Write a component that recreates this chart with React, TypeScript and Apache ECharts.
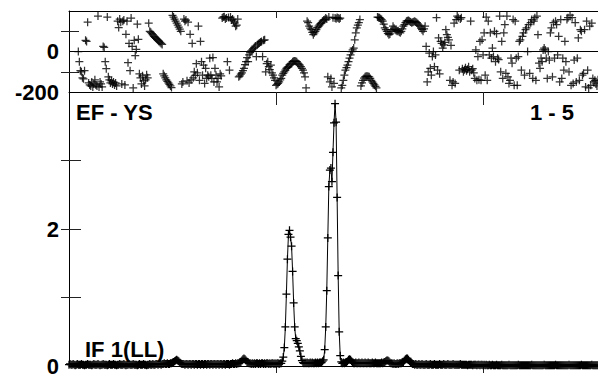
import React, { useEffect, useRef } from "react";
import * as echarts from "echarts";

// ---- data (channel index = array position) ----
const phaseDeg: (number | null)[] = [
  null, null, null, null, null, null, null, null, null, 0, -50, -95, -100, -130, -135, -95, 55, 50, 145, -155,
  -165, -170, -150, -175, -160, -140, -165, -170, 175, -175, -150, -160, -175, 25, 20, -50, -85, 170, -125, -140,
  -155, -145, -160, -150, -165, -155, -170, 150, 118, 160, 145, -160, 150, 155, -165, 85, 150, -55, 40, -95,
  165, 25, -180, 55, -20, 10, 135, 60, -110, -130, -160, -120, -145, -170, -140, -115, -130, 140, 100, 95,
  88, 82, 75, 70, 65, 60, 55, 50, 45, 40, 35, -110, -120, -130, -140, -148, -155, -162, -170, -178,
  178, 170, 160, 150, 140, 130, 120, 110, 100, -160, -150, 160, 150, 155, -145, 145, -155, 85, -140, 40,
  -130, -100, -118, -60, -105, 125, -142, 50, -50, -117, -67, -158, -83, -133, -117, -125, -33, -117, -133, -30,
  -150, -83, -117, -150, -133, -175, -110, -120, 165, 170, 172, 160, 165, -50, 168, -92, 170, 155, 160, 150,
  140, 125, 130, 160, -125, -120, -112, -105, -95, -83, -65, -50, -30, -50, -17, -5, 3, 8, 14, 20,
  27, -25, 33, 38, 42, 47, 50, -25, 55, 58, -100, -60, -50, -75, -90, -67, -105, -117, -130, -142,
  -167, -162, -158, -150, -140, -133, -117, -108, -100, -92, -83, -78, -75, -67, -62, -58, -50, -48, -47, -48,
  -50, -58, -62, -67, -75, -83, -92, -105, -125, -180, 150, 142, 125, 115, 108, 95, 83, 92, 100, 108,
  118, 125, 132, 138, 142, 150, 155, 158, 165, 160, -125, 170, -150, -133, -175, 167, -158, 165, 162, 168,
  165, 160, 165, -180, -167, -142, -117, -92, -80, -67, -50, -33, -17, 0, 8, 17, 58, 92, 117, 130,
  142, 158, -170, -155, -142, -132, -125, -122, -122, -123, -125, -133, -142, -150, -158, -165, -172, -180, 170, 168,
  167, 162, 158, 150, 135, 117, 108, 100, 90, 83, 87, 98, 108, 125, 115, 108, 104, 100, 103, 96,
  92, 100, 112, 125, 133, 142, 150, 152, 153, 150, 146, 142, 145, 147, 150, 146, 142, 137, 130, 125,
  115, 108, 100, 112, 125, 25, -150, -100, -8, -83, -117, -25, 0, -75, -17, 167, -92, 67, -110, 50,
  40, 17, 33, 45, 108, 83, 70, 58, -142, 30, -167, -150, 140, -158, 158, 175, 167, -92, 160, 167,
  -85, -100, -90, -80, -95, -88, -75, -100, 150, -92, -85, -105, -133, 8, -142, -25, -140, 50, -142, 58,
  -17, 92, -117, 170, -142, 150, -17, 92, -33, 17, -25, 100, -50, 88, -33, -40, 175, -100, 50, -133,
  92, 133, -108, 175, -125, -158, -142, -33, -58, 158, -167, 150, -33, -167, -25, 50, 58, -92, 75, 92,
  -117, 108, 117, 0, 133, -108, 142, 158, -133, 150, 167, -142, 175, 83, -58, -83, -33, -50, 8, 17,
  8, -33, -133, 0, -42, 92, 117, -125, 142, -33, 150, 133, -17, 75, -150, 158, -133, -33, -92, 50,
  -50, 158, 167, -100, 180, -167, 167, -158, -42, 142, -150, -33, 67, -142, 108, 100, -117, -108, 108, -175,
  150, -92, -180, 125, -167, 140, -133, -150, -142, -160, -170, -140,
];

const amplitude: number[] = [
  0.02, 0.03, 0.02, 0.02, 0.03, 0.02, 0.01, 0.02, 0.03, 0.02, 0.02, 0.02, 0.03, 0.02, 0.02, 0.01, 0.02, 0.02, 0.03, 0.02,
  0.02, 0.02, 0.01, 0.02, 0.03, 0.02, 0.02, 0.02, 0.03, 0.02, 0.01, 0.02, 0.02, 0.03, 0.02, 0.02, 0.02, 0.01, 0.02, 0.03,
  0.02, 0.02, 0.02, 0.03, 0.02, 0.02, 0.01, 0.02, 0.02, 0.03, 0.02, 0.02, 0.02, 0.03, 0.02, 0.01, 0.02, 0.02, 0.03, 0.02,
  0.02, 0.02, 0.03, 0.02, 0.02, 0.02, 0.01, 0.02, 0.03, 0.02, 0.02, 0.02, 0.03, 0.02, 0.02, 0.01, 0.02, 0.02, 0.03, 0.02,
  0.02, 0.03, 0.02, 0.02, 0.03, 0.03, 0.02, 0.03, 0.03, 0.02, 0.03, 0.03, 0.04, 0.03, 0.03, 0.04, 0.03, 0.03, 0.04, 0.04,
  0.05, 0.06, 0.07, 0.08, 0.09, 0.08, 0.07, 0.05, 0.04, 0.03, 0.03, 0.03, 0.02, 0.03, 0.03, 0.02, 0.03, 0.03, 0.02, 0.03,
  0.03, 0.02, 0.03, 0.03, 0.02, 0.03, 0.03, 0.02, 0.03, 0.03, 0.02, 0.03, 0.03, 0.02, 0.03, 0.03, 0.02, 0.03, 0.03, 0.02,
  0.03, 0.03, 0.02, 0.03, 0.03, 0.02, 0.03, 0.03, 0.02, 0.03, 0.03, 0.02, 0.03, 0.03, 0.03, 0.02, 0.03, 0.03, 0.04, 0.03,
  0.03, 0.04, 0.03, 0.04, 0.04, 0.05, 0.06, 0.08, 0.10, 0.11, 0.10, 0.08, 0.06, 0.05, 0.04, 0.04, 0.03, 0.04, 0.03, 0.04,
  0.03, 0.04, 0.04, 0.03, 0.04, 0.03, 0.04, 0.04, 0.03, 0.04, 0.03, 0.04, 0.04, 0.03, 0.04, 0.03, 0.04, 0.04, 0.03, 0.04,
  0.03, 0.04, 0.04, 0.03, 0.04, 0.04, 0.07, 0.13, 0.27, 0.57, 1.05, 1.56, 1.92, 1.98, 1.88, 1.75, 1.38, 0.92, 0.57, 0.40,
  0.37, 0.33, 0.28, 0.22, 0.14, 0.08, 0.05, 0.04, 0.05, 0.04, 0.05, 0.04, 0.04, 0.05, 0.04, 0.05, 0.04, 0.04, 0.05, 0.04,
  0.05, 0.04, 0.05, 0.05, 0.05, 0.07, 0.09, 0.24, 0.57, 1.10, 1.87, 2.62, 2.86, 2.89, 2.69, 3.12, 3.55, 3.83, 3.56, 2.46,
  1.32, 0.50, 0.15, 0.06, 0.04, 0.05, 0.04, 0.05, 0.06, 0.07, 0.09, 0.10, 0.09, 0.07, 0.05, 0.04, 0.04, 0.05, 0.04, 0.04,
  0.05, 0.04, 0.04, 0.05, 0.04, 0.04, 0.05, 0.04, 0.04, 0.05, 0.04, 0.04, 0.04, 0.05, 0.04, 0.04, 0.05, 0.04, 0.04, 0.04,
  0.04, 0.04, 0.05, 0.04, 0.05, 0.06, 0.07, 0.08, 0.08, 0.07, 0.05, 0.04, 0.04, 0.03, 0.04, 0.03, 0.03, 0.04, 0.03, 0.04,
  0.04, 0.04, 0.05, 0.06, 0.08, 0.10, 0.11, 0.11, 0.09, 0.07, 0.05, 0.04, 0.03, 0.03, 0.02, 0.03, 0.02, 0.02, 0.03, 0.02,
  0.02, 0.03, 0.02, 0.02, 0.02, 0.03, 0.02, 0.02, 0.02, 0.03, 0.02, 0.02, 0.02, 0.03, 0.02, 0.02, 0.02, 0.02, 0.03, 0.02,
  0.02, 0.02, 0.03, 0.02, 0.02, 0.02, 0.03, 0.02, 0.02, 0.02, 0.02, 0.03, 0.02, 0.02, 0.02, 0.02, 0.02, 0.02, 0.03, 0.02,
  0.02, 0.02, 0.02, 0.02, 0.02, 0.01, 0.02, 0.02, 0.02, 0.02, 0.01, 0.02, 0.02, 0.02, 0.01, 0.02, 0.02, 0.01, 0.02, 0.02,
  0.01, 0.02, 0.01, 0.02, 0.01, 0.01, 0.02, 0.01, 0.01, 0.02, 0.01, 0.01, 0.01, 0.02, 0.01, 0.01, 0.01, 0.01, 0.02, 0.01,
  0.01, 0.01, 0.01, 0.01, 0.01, 0.02, 0.01, 0.01, 0.01, 0.01, 0.01, 0.01, 0.01, 0.01, 0.02, 0.01, 0.01, 0.01, 0.01, 0.01,
  0.01, 0.01, 0.01, 0.01, 0.01, 0.01, 0.01, 0.02, 0.01, 0.01, 0.01, 0.01, 0.01, 0.01, 0.01, 0.01, 0.01, 0.01, 0.01, 0.02,
  0.01, 0.01, 0.01, 0.01, 0.01, 0.01, 0.01, 0.01, 0.01, 0.01, 0.02, 0.01, 0.01, 0.01, 0.01, 0.01, 0.01, 0.01, 0.01, 0.01,
  0.01, 0.01, 0.01, 0.02, 0.01, 0.01, 0.01, 0.01, 0.01, 0.01, 0.01, 0.01, 0.01, 0.01, 0.01, 0.02, 0.01, 0.01, 0.01, 0.01,
  0.01, 0.01, 0.01, 0.01, 0.01, 0.02, 0.01, 0.01, 0.01, 0.01, 0.01, 0.01,
];

const channelTicks = [200, 400];
const phaseTickValues = [-100, 100];
const phaseLabelValues = [-200, 0];
const ampTickValues = [1, 2, 3];
const ampLabelValues = [0, 2];
const baselineText = "EF - YS";
const sourceText = "1 - 5";
const ifText = "IF 1(LL)";

const FONT = "'Liberation Sans', Arial, Helvetica, sans-serif";
const PLUS = "path://M0,5L10,5M5,0L5,10";

export default function App() {
  const ref = useRef<HTMLDivElement>(null);

  useEffect(() => {
    if (!ref.current) return;
    const chart = echarts.init(ref.current, undefined, { renderer: "svg" });

    const nCh = amplitude.length;
    const phaseData: any[] = [];
    phaseDeg.forEach((v, i) => {
      if (v !== null) phaseData.push([i, v]);
    });
    const ampData = amplitude.map((v, i) => [i, v]);

    const axisLineStyle = { color: "#000", width: 1 };
    const tickStyle = { color: "#222", width: 1 };
    const labelStyle = {
      color: "#000",
      fontSize: 22,
      fontWeight: "bold" as const,
      fontFamily: FONT,
      padding: [6, 0, 0, 0],
    };
    const markerStyle = { color: "#000", borderColor: "#000", borderWidth: 1.25 };

    const xBase = {
      type: "value" as const,
      min: 0,
      max: nCh - 1,
      splitLine: { show: false },
      axisLabel: { show: false },
    };

    chart.setOption({
      animation: false,
      backgroundColor: "#fff",
      grid: [
        { left: 69, right: 0, top: 11, height: 81 },
        { left: 69, right: 0, top: 92, bottom: 7 },
      ],
      xAxis: [
        {
          ...xBase,
          gridIndex: 0,
          position: "bottom",
          axisLine: { show: true, onZero: false, lineStyle: axisLineStyle },
          axisTick: { show: true, inside: false, length: 13, customValues: channelTicks, lineStyle: tickStyle },
        },
        {
          ...xBase,
          gridIndex: 0,
          position: "top",
          axisLine: { show: true, onZero: false, lineStyle: axisLineStyle },
          axisTick: { show: true, inside: true, length: 7, customValues: channelTicks, lineStyle: tickStyle },
        },
        {
          ...xBase,
          gridIndex: 1,
          position: "bottom",
          axisLine: { show: true, onZero: false, lineStyle: axisLineStyle },
          axisTick: { show: true, inside: false, length: 7, customValues: channelTicks, lineStyle: tickStyle },
        },
      ],
      yAxis: [
        {
          type: "value",
          gridIndex: 0,
          position: "left",
          min: -200,
          max: 200,
          interval: 100,
          splitLine: { show: false },
          axisLine: { show: true, onZero: false, lineStyle: axisLineStyle },
          axisTick: { show: true, inside: true, length: 10, customValues: phaseTickValues, lineStyle: tickStyle },
          axisLabel: { show: true, margin: 10, customValues: phaseLabelValues, ...labelStyle },
        },
        {
          type: "value",
          gridIndex: 0,
          position: "right",
          min: -200,
          max: 200,
          interval: 100,
          splitLine: { show: false },
          axisLine: { show: false },
          axisTick: { show: true, inside: true, length: 8, customValues: phaseTickValues, lineStyle: tickStyle },
          axisLabel: { show: false },
        },
        {
          type: "value",
          gridIndex: 1,
          position: "left",
          min: 0,
          max: 4,
          interval: 1,
          splitLine: { show: false },
          axisLine: { show: true, onZero: false, lineStyle: axisLineStyle },
          axisTick: { show: true, inside: true, length: 12, customValues: ampTickValues, lineStyle: tickStyle },
          axisLabel: { show: true, margin: 10, customValues: ampLabelValues, ...labelStyle },
        },
        {
          type: "value",
          gridIndex: 1,
          position: "right",
          min: 0,
          max: 4,
          interval: 1,
          splitLine: { show: false },
          axisLine: { show: false },
          axisTick: { show: true, inside: true, length: 8, customValues: ampTickValues, lineStyle: tickStyle },
          axisLabel: { show: false },
        },
      ],
      series: [
        {
          type: "scatter",
          xAxisIndex: 0,
          yAxisIndex: 0,
          data: phaseData,
          symbol: PLUS,
          symbolSize: 8,
          itemStyle: markerStyle,
          silent: true,
          markLine: {
            silent: true,
            symbol: ["none", "none"],
            label: { show: false },
            lineStyle: { color: "#000", width: 1, type: "solid" },
            data: [{ yAxis: 0 }],
          },
        },
        {
          type: "line",
          xAxisIndex: 2,
          yAxisIndex: 2,
          data: ampData,
          symbol: PLUS,
          symbolSize: 8,
          showSymbol: true,
          showAllSymbol: true,
          silent: true,
          lineStyle: { color: "#000", width: 1 },
          itemStyle: markerStyle,
        },
      ],
      graphic: [
        {
          type: "text",
          x: 76,
          y: 112.5,
          style: { text: baselineText, fill: "#000", fontSize: 22, fontWeight: "bold", fontFamily: FONT, align: "left", verticalAlign: "middle" },
        },
        {
          type: "text",
          x: 574,
          y: 112.5,
          style: { text: sourceText, fill: "#000", fontSize: 22, fontWeight: "bold", fontFamily: FONT, align: "right", verticalAlign: "middle" },
        },
        {
          type: "text",
          x: 85,
          y: 349,
          style: { text: ifText, fill: "#000", fontSize: 22, fontWeight: "bold", fontFamily: FONT, align: "left", verticalAlign: "middle" },
        },
      ],
    });

    return () => {
      chart.dispose();
    };
  }, []);

  return (
    <div
      ref={ref}
      style={{ position: "fixed", left: 0, top: 0, width: 598, height: 377, background: "#fff" }}
    />
  );
}
